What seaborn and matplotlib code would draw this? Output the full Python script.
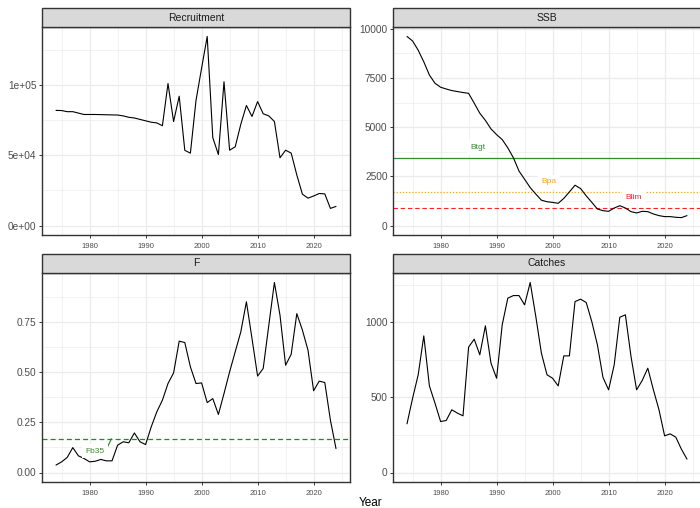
import numpy as np
import pandas as pd
import matplotlib
matplotlib.use("Agg")
import matplotlib.pyplot as plt
from matplotlib.patches import Rectangle
from matplotlib.ticker import FixedLocator
import seaborn as sns

sns.set_theme(style="white")
plt.rcParams['font.family'] = ['Liberation Sans', 'DejaVu Sans']

# values
years = list(range(1974, 2025))

recruitment = [81900, 81800, 81000, 81000, 80000, 79000, 79000, 79000, 78900, 78800,
               78700, 78600, 78000, 77000, 76500, 75500, 74500, 73500, 73000, 71000,
               101000, 74000, 92000, 53500, 51500, 89000, 112000, 134500, 62500, 50500,
               102300, 53600, 56000, 72000, 85400, 77600, 88200, 79500, 78000, 74000,
               48200, 53600, 51500, 36000, 22300, 19500, 21000, 22800, 22500, 12200,
               13600]

ssb = [9610, 9380, 8910, 8320, 7650, 7230, 7030, 6940, 6860, 6810,
       6760, 6720, 6220, 5710, 5345, 4910, 4620, 4370, 3950, 3445,
       2770, 2350, 1930, 1600, 1290, 1210, 1176, 1130, 1380, 1710,
       2050, 1880, 1510, 1180, 840, 756, 723, 890, 1008, 890,
       706, 640, 723, 706, 588, 504, 454, 454, 420, 403,
       504]

fbar = [0.037, 0.053, 0.075, 0.124, 0.083, 0.070, 0.053, 0.056, 0.065, 0.058,
        0.058, 0.136, 0.153, 0.148, 0.197, 0.153, 0.139, 0.227, 0.302, 0.360,
        0.443, 0.496, 0.654, 0.647, 0.526, 0.443, 0.446, 0.348, 0.368, 0.289,
        0.393, 0.501, 0.601, 0.700, 0.850, 0.667, 0.480, 0.518, 0.733, 0.946,
        0.783, 0.534, 0.589, 0.791, 0.709, 0.609, 0.407, 0.455, 0.448, 0.261,
        0.119]

catches = [324, 494, 650, 909, 576, 461, 339, 346, 417, 395,
           377, 834, 887, 783, 976, 727, 627, 982, 1160, 1177,
           1177, 1115, 1264, 1038, 794, 650, 627, 576, 776, 776,
           1137, 1153, 1131, 1004, 849, 632, 550, 716, 1033, 1049,
           772, 550, 612, 694, 550, 417, 244, 257, 235, 155,
           89]

panels = ["Recruitment", "SSB", "F", "Catches"]

# reference points
b_tgt = 3420
b_pa = 1730
b_lim = 870
f_b35 = 0.169

rec_ticks = [0, 50000, 100000]
rec_labels = ["0e+00", "5e+04", "1e+05"]
ssb_ticks = [0, 2500, 5000, 7500, 10000]
f_ticks = [0.0, 0.25, 0.5, 0.75]
f_labels = ["0.00", "0.25", "0.50", "0.75"]
catch_ticks = [0, 500, 1000]
x_ticks = [1980, 1990, 2000, 2010, 2020]

df = pd.DataFrame({
    "Year": years * 4,
    "value": recruitment + ssb + fbar + catches,
    "panel": np.repeat(panels, len(years)),
})

W, H = 700, 508
fig = plt.figure(figsize=(7, 5.08), dpi=100)
fig.patch.set_facecolor("white")

# panel boxes in pixels: left, top, right, bottom
boxes = {
    "Recruitment": (42, 27, 350, 235),
    "SSB": (393, 27, 701, 235),
    "F": (42, 273, 350, 482),
    "Catches": (393, 273, 701, 482),
}
strip_h = 19

grid_col = "#EBEBEB"
dark = "#333333"

axes = {}
for name in panels:
    l, t, r, b = boxes[name]
    ax = fig.add_axes([l / W, 1 - b / H, (r - l) / W, (b - t) / H])
    axes[name] = ax
    sub = df[df["panel"] == name]
    sns.lineplot(data=sub, x="Year", y="value", color="black", lw=0.8, ax=ax, zorder=3)

    # limits like ggplot, 0 included, 5% padding
    vmax = sub["value"].max()
    pad = 0.05 * vmax
    ax.set_ylim(-pad, vmax + pad)
    ax.set_xlim(1971.5, 2026.5)

    ax.set_xlabel("")
    ax.set_ylabel("")
    ax.xaxis.set_major_locator(FixedLocator(x_ticks))
    ax.xaxis.set_minor_locator(FixedLocator([1975, 1985, 1995, 2005, 2015, 2025]))
    ax.grid(True, which="major", color=grid_col, lw=0.9, zorder=0)
    ax.grid(True, which="minor", color=grid_col, lw=0.45, zorder=0)
    ax.set_axisbelow(True)
    for s in ax.spines.values():
        s.set_color(dark)
        s.set_linewidth(1.0)
    ax.tick_params(axis="x", which="major", labelsize=5.5, colors="#4D4D4D",
                   length=2.5, width=0.7, pad=3, color=dark, bottom=True)
    ax.tick_params(axis="y", which="major", labelsize=7.3, colors="#4D4D4D",
                   length=2.5, width=0.7, pad=1.5, color=dark, left=True)
    ax.tick_params(which="minor", length=0)
    ax.set_xticklabels([str(x) for x in x_ticks])

    # strip
    sh = strip_h / (b - t)
    ax.add_patch(Rectangle((0, 1), 1, sh, transform=ax.transAxes, clip_on=False,
                           facecolor="#D9D9D9", edgecolor=dark, lw=1.0, zorder=5))
    ax.text(0.5, 1 + sh / 2, name, transform=ax.transAxes, ha="center", va="center",
            fontsize=7.5, color="#1A1A1A", zorder=6)

# y ticks per panel
ax = axes["Recruitment"]
ax.yaxis.set_major_locator(FixedLocator(rec_ticks))
ax.yaxis.set_minor_locator(FixedLocator([25000, 75000, 125000]))
ax.set_yticklabels(rec_labels)

ax = axes["SSB"]
ax.yaxis.set_major_locator(FixedLocator(ssb_ticks))
ax.yaxis.set_minor_locator(FixedLocator([1250, 3750, 6250, 8750]))
ax.set_yticklabels([str(v) for v in ssb_ticks])
lab_box = dict(boxstyle="square,pad=0.4", fc="white", ec="none")
ax.axhline(b_tgt, color="#2E8B2E", lw=0.9, zorder=2)
ax.axhline(b_pa, color="#FFA500", lw=0.9, ls=(0, (1, 1.5)), zorder=2)
ax.axhline(b_lim, color="#FF2020", lw=0.8, ls=(0, (4, 2.5)), zorder=2)
ax.text(1986.7, 3950, "Btgt", color="#2E8B2E", fontsize=6, ha="center", va="center",
        bbox=lab_box, zorder=4)
ax.text(1999.3, 2218, "Bpa", color="#FFA500", fontsize=6, ha="center", va="center",
        bbox=lab_box, zorder=4)
ax.text(2014.4, 1430, "Blim", color="#FF2020", fontsize=6, ha="center", va="center",
        bbox=lab_box, zorder=4)

ax = axes["F"]
ax.yaxis.set_major_locator(FixedLocator(f_ticks))
ax.yaxis.set_minor_locator(FixedLocator([0.125, 0.375, 0.625, 0.875]))
ax.set_yticklabels(f_labels)
ax.axhline(f_b35, color="#1E8B1E", lw=0.9, ls=(0, (4, 2.5)), zorder=2)
ax.plot([1983.15, 1983.9], [0.124, 0.168], color="#1E8B1E", lw=0.8, zorder=4)
ax.text(1980.9, 0.106, "Fb35", color="#3C8C28", fontsize=6, ha="center", va="center",
        bbox=lab_box, zorder=4)

ax = axes["Catches"]
ax.yaxis.set_major_locator(FixedLocator(catch_ticks))
ax.yaxis.set_minor_locator(FixedLocator([250, 750, 1250]))
ax.set_yticklabels([str(v) for v in catch_ticks])

fig.text(371 / W, 1 - 503 / H, "Year", ha="center", va="center", fontsize=8.5,
         color="black")

fig.savefig("out.png", dpi=100)
